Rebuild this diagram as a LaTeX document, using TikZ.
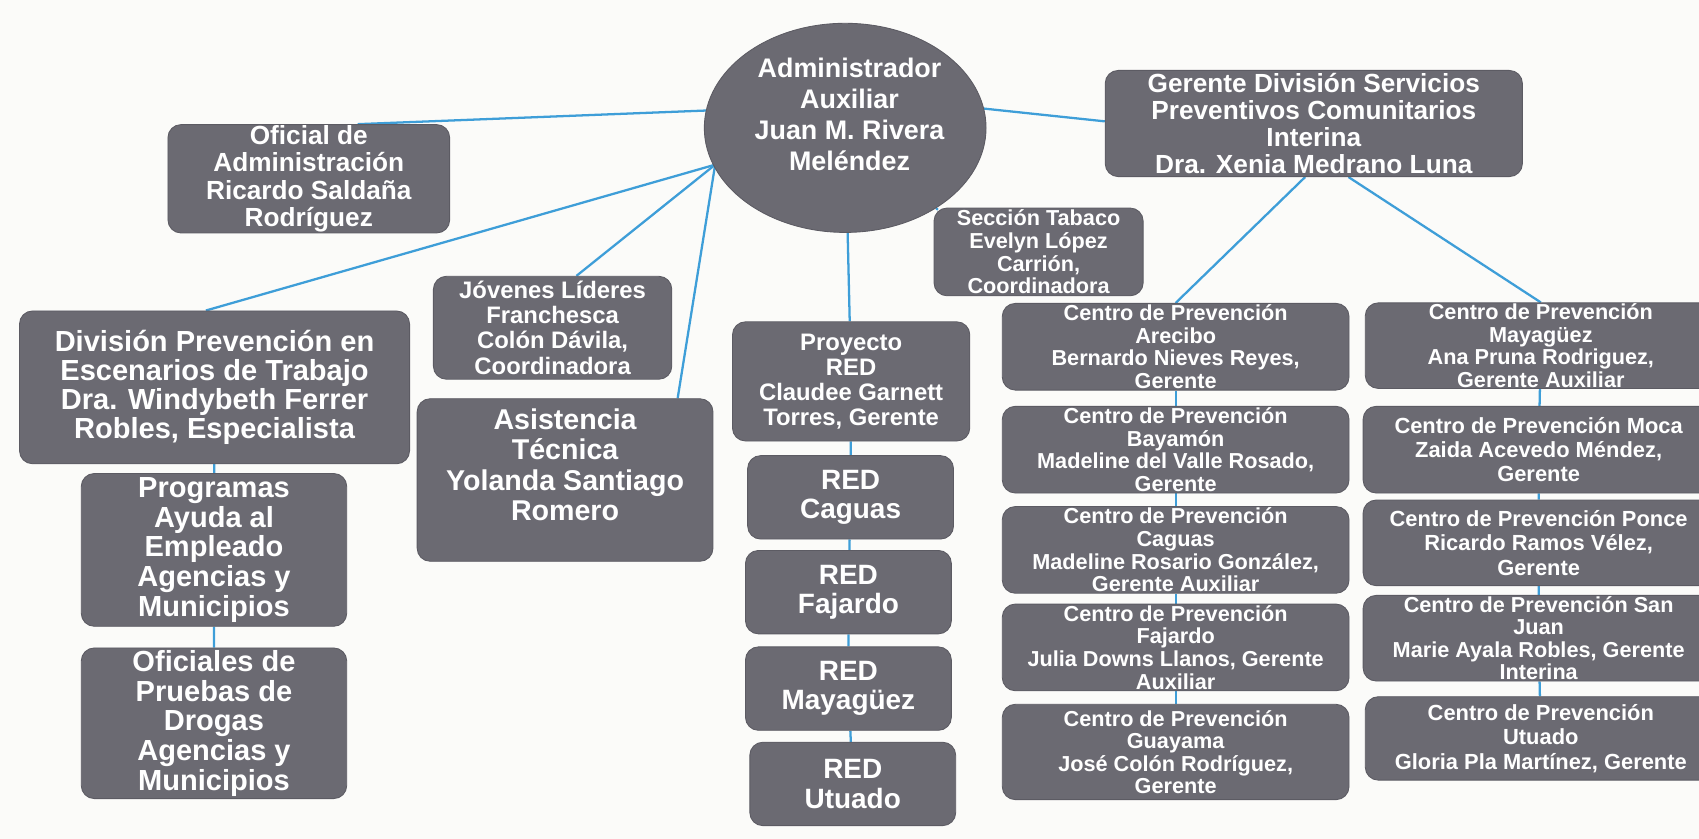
\documentclass[tikz,border=0pt]{standalone}
\usepackage{fontspec}
\setmainfont{Liberation Sans}
\usetikzlibrary{shapes.geometric,calc}
\pgfdeclarelayer{paperlayer}
\pgfdeclarelayer{background}
\pgfsetlayers{paperlayer,background,main}

\definecolor{boxfill}{RGB}{107,106,114}
\definecolor{boxedge}{RGB}{92,91,99}
\definecolor{linkblue}{RGB}{62,158,216}
\definecolor{paper}{RGB}{251,251,249}

\tikzset{
  orgbox/.style={fill=boxfill, draw=boxedge, line width=0.4pt, rounded corners=6pt,
    text=white, align=center, inner xsep=-80pt, inner ysep=-80pt},
  boxtext/.style={text=white, align=center, inner sep=0pt},
  link/.style={draw=linkblue, line width=1.05pt},
  fcentro/.style={font=\fontsize{10}{10.4}\selectfont\bfseries},
  fcentrob/.style={font=\fontsize{10.1}{11.2}\selectfont\bfseries},
  fsmall/.style={font=\fontsize{11}{11.6}\selectfont\bfseries},
  fmid/.style={font=\fontsize{12.1}{12.6}\selectfont\bfseries},
  fred/.style={font=\fontsize{12.9}{13.6}\selectfont\bfseries},
  fbig/.style={font=\fontsize{13.4}{13.7}\selectfont\bfseries},
  leftcol/.style={orgbox, fcentro, minimum width=160pt, minimum height=40pt},
  rightcol/.style={orgbox, minimum width=162pt, minimum height=39.5pt},
  redbox/.style={orgbox, fred, minimum width=95pt, minimum height=38.5pt},
}

\begin{document}
\begin{tikzpicture}[x=0.5pt, y=-0.5pt]
\useasboundingbox (0,0) rectangle (1568,774);
\begin{pgfonlayer}{paperlayer}
  \fill[paper] (0,0) rectangle (1568,774);
\end{pgfonlayer}

% head of the chart
\node[ellipse, fill=boxfill, draw=boxedge, line width=0.4pt,
      minimum width=130pt, minimum height=96.5pt, inner sep=0pt] (adm) at (780,118) {};
\node[boxtext, font=\fontsize{12.4}{14.3}\selectfont\bfseries] (admtxt) at (784,106)
  {Administrador\\Auxiliar\\Juan M. Rivera\\Meléndez};

% direct reports
\node[orgbox, fmid, minimum width=130pt, minimum height=50pt] (ofi) at (285,165)
  {Oficial de\\Administración\\Ricardo Saldaña\\Rodríguez};
\node[orgbox, fmid, minimum width=192.5pt, minimum height=49pt] (ger) at (1212.5,114)
  {Gerente División Servicios\\Preventivos Comunitarios\\Interina\\Dra. Xenia Medrano Luna};
\node[orgbox, fcentro, minimum width=96.5pt, minimum height=40.5pt] (tab) at (958.5,232.5)
  {Sección Tabaco\\Evelyn López\\Carrión,\\Coordinadora};
\node[orgbox, fsmall, minimum width=110pt, minimum height=47.5pt] (jov) at (510,302.5)
  {Jóvenes Líderes\\Franchesca\\Colón Dávila,\\Coordinadora};
\node[orgbox, font=\fontsize{13.4}{13.3}\selectfont\bfseries,
      minimum width=180pt, minimum height=70.5pt] (div) at (198,357.5)
  {División Prevención en\\Escenarios de Trabajo\\Dra. Windybeth Ferrer\\Robles, Especialista};
\node[orgbox, minimum width=136.5pt, minimum height=75pt] (asi) at (521.5,443) {};
\node[boxtext, font=\fontsize{13.2}{14}\selectfont\bfseries] (asitxt) at (521.5,429)
  {Asistencia\\Técnica\\Yolanda Santiago\\Romero};
\node[orgbox, fsmall, minimum width=109.5pt, minimum height=55pt] (pro) at (785.5,352)
  {Proyecto\\RED\\Claudee Garnett\\Torres, Gerente};

% workplace prevention branch
\node[orgbox, fbig, minimum width=122.5pt, minimum height=70.5pt] (prg) at (197.5,507.5)
  {Programas\\Ayuda al\\Empleado\\Agencias y\\Municipios};
\node[orgbox, fbig, minimum width=122.5pt, minimum height=69.5pt] (ofd) at (197.5,667.5)
  {Oficiales de\\Pruebas de\\Drogas\\Agencias y\\Municipios};

% RED offices
\node[redbox] (rc) at (785,459)   {RED\\Caguas};
\node[redbox] (rf) at (783,546.5) {RED\\Fajardo};
\node[redbox] (rm) at (783,635.5) {RED\\Mayagüez};
\node[redbox] (ru) at (787,723.5) {RED\\Utuado};

% prevention centres, first column
\node[leftcol] (c1) at (1085,320)
  {Centro de Prevención\\Arecibo\\Bernardo Nieves Reyes,\\Gerente};
\node[leftcol] (c2) at (1085,415)
  {Centro de Prevención\\Bayamón\\Madeline del Valle Rosado,\\Gerente};
\node[leftcol] (c3) at (1085,507.5)
  {Centro de Prevención\\Caguas\\Madeline Rosario González,\\Gerente Auxiliar};
\node[leftcol] (c4) at (1085,597.5)
  {Centro de Prevención\\Fajardo\\Julia Downs Llanos, Gerente\\Auxiliar};
\node[leftcol, minimum height=44pt] (c5) at (1085,694)
  {Centro de Prevención\\Guayama\\José Colón Rodríguez,\\Gerente};

% prevention centres, second column
\node[rightcol, fcentro] (d1) at (1422,319)
  {Centro de Prevención\\Mayagüez\\Ana Pruna Rodriguez,\\Gerente Auxiliar};
\node[rightcol, fcentrob, minimum height=40pt] (d2) at (1420,415)
  {Centro de Prevención Moca\\Zaida Acevedo Méndez,\\Gerente};
\node[rightcol, fcentrob] (d3) at (1420,501)
  {Centro de Prevención Ponce\\Ricardo Ramos Vélez,\\Gerente};
\node[rightcol, fcentro] (d4) at (1420,589)
  {Centro de Prevención San\\Juan\\Marie Ayala Robles, Gerente\\Interina};
\node[rightcol, fcentrob, minimum height=38.5pt] (d5) at (1422,681.5)
  {Centro de Prevención\\Utuado\\Gloria Pla Martínez, Gerente};

% connectors, kept behind the boxes
\coordinate (hubL) at (660,152);
\coordinate (hubO) at (652,102);
\coordinate (hubR) at (906,100);
\begin{pgfonlayer}{background}
  \draw[link] (hubO) -- ($(ofi.north)+(45,0)$);
  \draw[link] (hubL) -- ($(div.north)+(-8,0)$);
  \draw[link] (hubL) -- ($(jov.north)+(22,0)$);
  \draw[link] (hubL) -- ($(asi.north east)+(-33,0)$);
  \draw[link] (adm) -- (pro);
  \draw[link] (hubR) -- ($(ger.west)+(0,-2)$);
  \draw[link] (adm) -- ($(tab.north west)+(4,2)$);
  \draw[link] ($(ger.south)+(-8,0)$) -- (c1.north);
  \draw[link] ($(ger.south)+(32,0)$) -- (d1.north);
  \draw[link] (div) -- (prg) -- (ofd);
  \draw[link] (pro) -- (rc) -- (rf) -- (rm) -- (ru);
  \draw[link] (c1) -- (c2) -- (c3) -- (c4) -- (c5);
  \draw[link] (d1) -- (d2) -- (d3) -- (d4) -- (d5);
\end{pgfonlayer}
\end{tikzpicture}
\end{document}
